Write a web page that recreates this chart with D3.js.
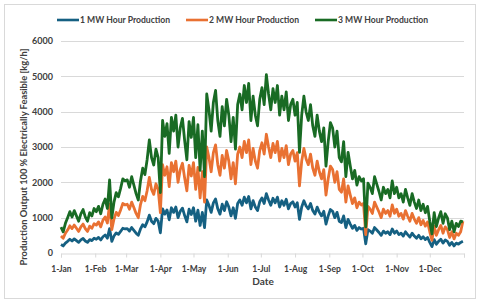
<!DOCTYPE html>
<html>
<head>
<meta charset="utf-8">
<script src="https://cdn.jsdelivr.net/npm/d3@7"></script>
<style>
	body { margin: 0; background: #fff; }
	text { font-family: Lato, "Liberation Sans", sans-serif; font-weight: bold; fill: #404040; }
</style>
</head>
<body>
<script>
// readings every 2nd day starting 1-Jan
var startDate = new Date(2023, 0, 1);
var stepDays = 2;

var seriesNames = ["1 MW Hour Production", "2 MW Hour Production", "3 MW Hour Production"];
var seriesColors = ["#156082", "#E97132", "#196B24"];

var mw1 = [
	240,200,280,330,390,340,400,350,300,370,410,340,300,380,350,420,
	390,440,370,460,510,420,690,330,480,570,530,610,700,680,
	690,620,720,640,560,500,680,800,740,880,1070,900,830,980,900,
	570,1250,1100,1220,940,1280,1150,1300,1000,1180,1270,1060,880,1240,1090,
	1280,900,1210,780,1150,720,1500,1350,1150,1420,1530,1250,1100,1380,1200,
	1450,1300,1050,1280,980,1400,1500,1350,1580,1420,1600,1250,1480,1300,1200,
	1450,1560,1400,1680,1500,1350,1550,1420,1580,1300,1480,1350,1520,1250,1400,1450,
	1300,1420,950,1300,1480,1330,1250,1400,1200,1100,1300,1150,1050,1180,820,1050,
	1230,1180,1000,1150,900,860,1050,720,950,820,700,780,640,720,680,
	700,260,660,620,560,720,650,580,500,620,560,600,520,680,560,
	620,520,560,480,600,520,450,560,480,420,500,400,460,380,440,
	300,180,380,250,330,390,280,370,330,220,300,200,280,250,300,330
];
var mw2 = [
	480,420,560,650,770,690,790,700,610,740,820,690,610,760,700,830,
	790,880,740,930,1020,850,1380,660,960,1150,1060,1220,1400,1360,
	1380,1240,1440,1290,1120,1000,1370,1600,1480,1760,2140,1800,1660,1960,1800,
	1140,2500,2200,2440,1880,2560,2300,2600,2000,2360,2540,2120,1760,2480,2180,
	2560,1800,2420,1560,2300,1440,3000,2700,2300,2840,3060,2500,2200,2760,2400,
	2900,2600,2100,2560,1960,2800,3000,2700,3160,2840,3200,2500,2960,2600,2400,
	2900,3120,2800,3360,3000,2700,3100,2840,3160,2600,2960,2700,3040,2500,2800,2900,
	2600,2840,1900,2600,2960,2660,2500,2800,2400,2200,2600,2300,2100,2360,1640,2100,
	2460,2360,2000,2300,1800,1720,2100,1440,1900,1640,1400,1560,1280,1440,1360,
	1400,520,1320,1240,1120,1440,1300,1160,1000,1240,1120,1200,1040,1360,1120,
	1240,1040,1120,960,1200,1040,900,1120,960,840,1000,800,920,760,880,
	600,360,760,500,660,780,560,740,660,440,600,400,560,500,600,900
];
var mw3 = [
	730,600,840,1000,1170,1020,1200,1050,900,1110,1230,1020,900,1140,1050,1260,
	1170,1320,1110,1380,1530,1260,2070,990,1440,1710,1590,1830,2100,2040,
	2070,1860,2160,1920,1680,1500,2040,2400,2220,2640,3200,2700,2490,2940,2700,
	1710,3750,3300,3660,2820,3840,3450,3900,3000,3540,3810,3180,2640,3720,3270,
	3840,2700,3630,2340,3450,2160,4500,4050,3450,4260,4600,3750,3300,4140,3600,
	4350,3900,3150,3840,2940,4200,4500,4050,4740,4260,4800,3750,4440,3900,3600,
	4350,4680,4200,5050,4500,4050,4650,4260,4740,3900,4440,4050,4560,3750,4200,4350,
	3900,4260,2850,3900,4440,3990,3750,4200,3600,3300,3900,3450,3150,3540,2460,3150,
	3690,3540,3000,3450,2700,2580,3150,2160,2850,2460,2100,2340,1920,2160,2040,
	2100,740,1980,1860,1680,2160,1950,1740,1500,1860,1680,1800,1560,2040,1680,
	1860,1560,1680,1440,1800,1560,1350,1680,1440,1260,1500,1200,1380,1140,1320,
	900,540,1140,750,990,1170,840,1110,990,660,900,600,840,750,900,880
];

var yTicks = [0, 1000, 2000, 3000, 4000, 5000, 6000];

var width = 480, height = 306;
var margin = {left: 61, right: 16, top: 41, bottom: 53};

var svg = d3.select("body").append("svg")
	.attr("width", width)
	.attr("height", height);

svg.append("rect")
	.attr("x", 4.5).attr("y", 4.5)
	.attr("width", 471).attr("height", 294)
	.style("fill", "#fff")
	.style("stroke", "#d9d9d9");

var x = d3.scaleTime()
	.domain([startDate, new Date(2024, 0, 1)])
	.range([margin.left, width - margin.right]);

var y = d3.scaleLinear()
	.domain([0, 6000])
	.range([height - margin.bottom, margin.top]);

function dateAt(i) {
	return d3.timeDay.offset(startDate, i * stepDays);
}

// gridlines
svg.append("g")
	.selectAll("line")
	.data(yTicks.slice(1))
	.enter().append("line")
		.attr("x1", x.range()[0]).attr("x2", x.range()[1])
		.attr("y1", function(d) { return Math.round(y(d)) + 0.5; })
		.attr("y2", function(d) { return Math.round(y(d)) + 0.5; })
		.style("stroke", "#d9d9d9")
		.style("stroke-width", 1);

// y axis labels
var yAxis = svg.append("g")
	.attr("transform", "translate(" + margin.left + ",0)")
	.call(d3.axisLeft(y).tickValues(yTicks).tickSize(0).tickPadding(8).tickFormat(d3.format("d")));
yAxis.select(".domain").remove();
yAxis.selectAll("text")
	.style("font-size", "9px")
	.style("font-family", "Lato, sans-serif");

// x axis
var months = d3.timeMonth.range(startDate, new Date(2024, 0, 2));
var xAxis = svg.append("g")
	.attr("transform", "translate(0," + (Math.round(y(0)) + 0.5) + ")")
	.call(d3.axisBottom(x).tickValues(months).tickSize(4).tickPadding(8)
		.tickFormat(function(d) { return d.getFullYear() > 2023 ? "" : d3.timeFormat("%-d-%b")(d); }));
xAxis.select(".domain").style("stroke", "#d9d9d9");
xAxis.selectAll(".tick line").style("stroke", "#d9d9d9");
xAxis.selectAll("text")
	.style("font-size", "8.5px")
	.style("font-family", "Lato, sans-serif");

// series lines
var line = d3.line()
	.x(function(d, i) { return x(dateAt(i)); })
	.y(function(d) { return y(d); });

[mw1, mw2, mw3].forEach(function(values, k) {
	svg.append("path")
		.datum(values)
		.attr("d", line)
		.style("fill", "none")
		.style("stroke", seriesColors[k])
		.style("stroke-width", 2.8)
		.style("stroke-linejoin", "round");
});

// axis titles
svg.append("text")
	.attr("x", 263).attr("y", 285)
	.attr("text-anchor", "middle")
	.style("font-size", "10px")
	.text("Date");

svg.append("text")
	.attr("transform", "translate(27,157) rotate(-90)")
	.attr("text-anchor", "middle")
	.style("font-size", "9.3px")
	.text("Production Output 100 % Electrically Feasible [kg/h]");

// legend
var legendX = [57, 186, 315];
var legend = svg.append("g");
seriesNames.forEach(function(name, k) {
	legend.append("line")
		.attr("x1", legendX[k]).attr("x2", legendX[k] + 22)
		.attr("y1", 20).attr("y2", 20)
		.style("stroke", seriesColors[k])
		.style("stroke-width", 2.6);
	legend.append("text")
		.attr("x", legendX[k] + 23).attr("y", 23.2)
		.style("font-size", "8.6px")
		.text(name);
});
</script>
</body>
</html>
